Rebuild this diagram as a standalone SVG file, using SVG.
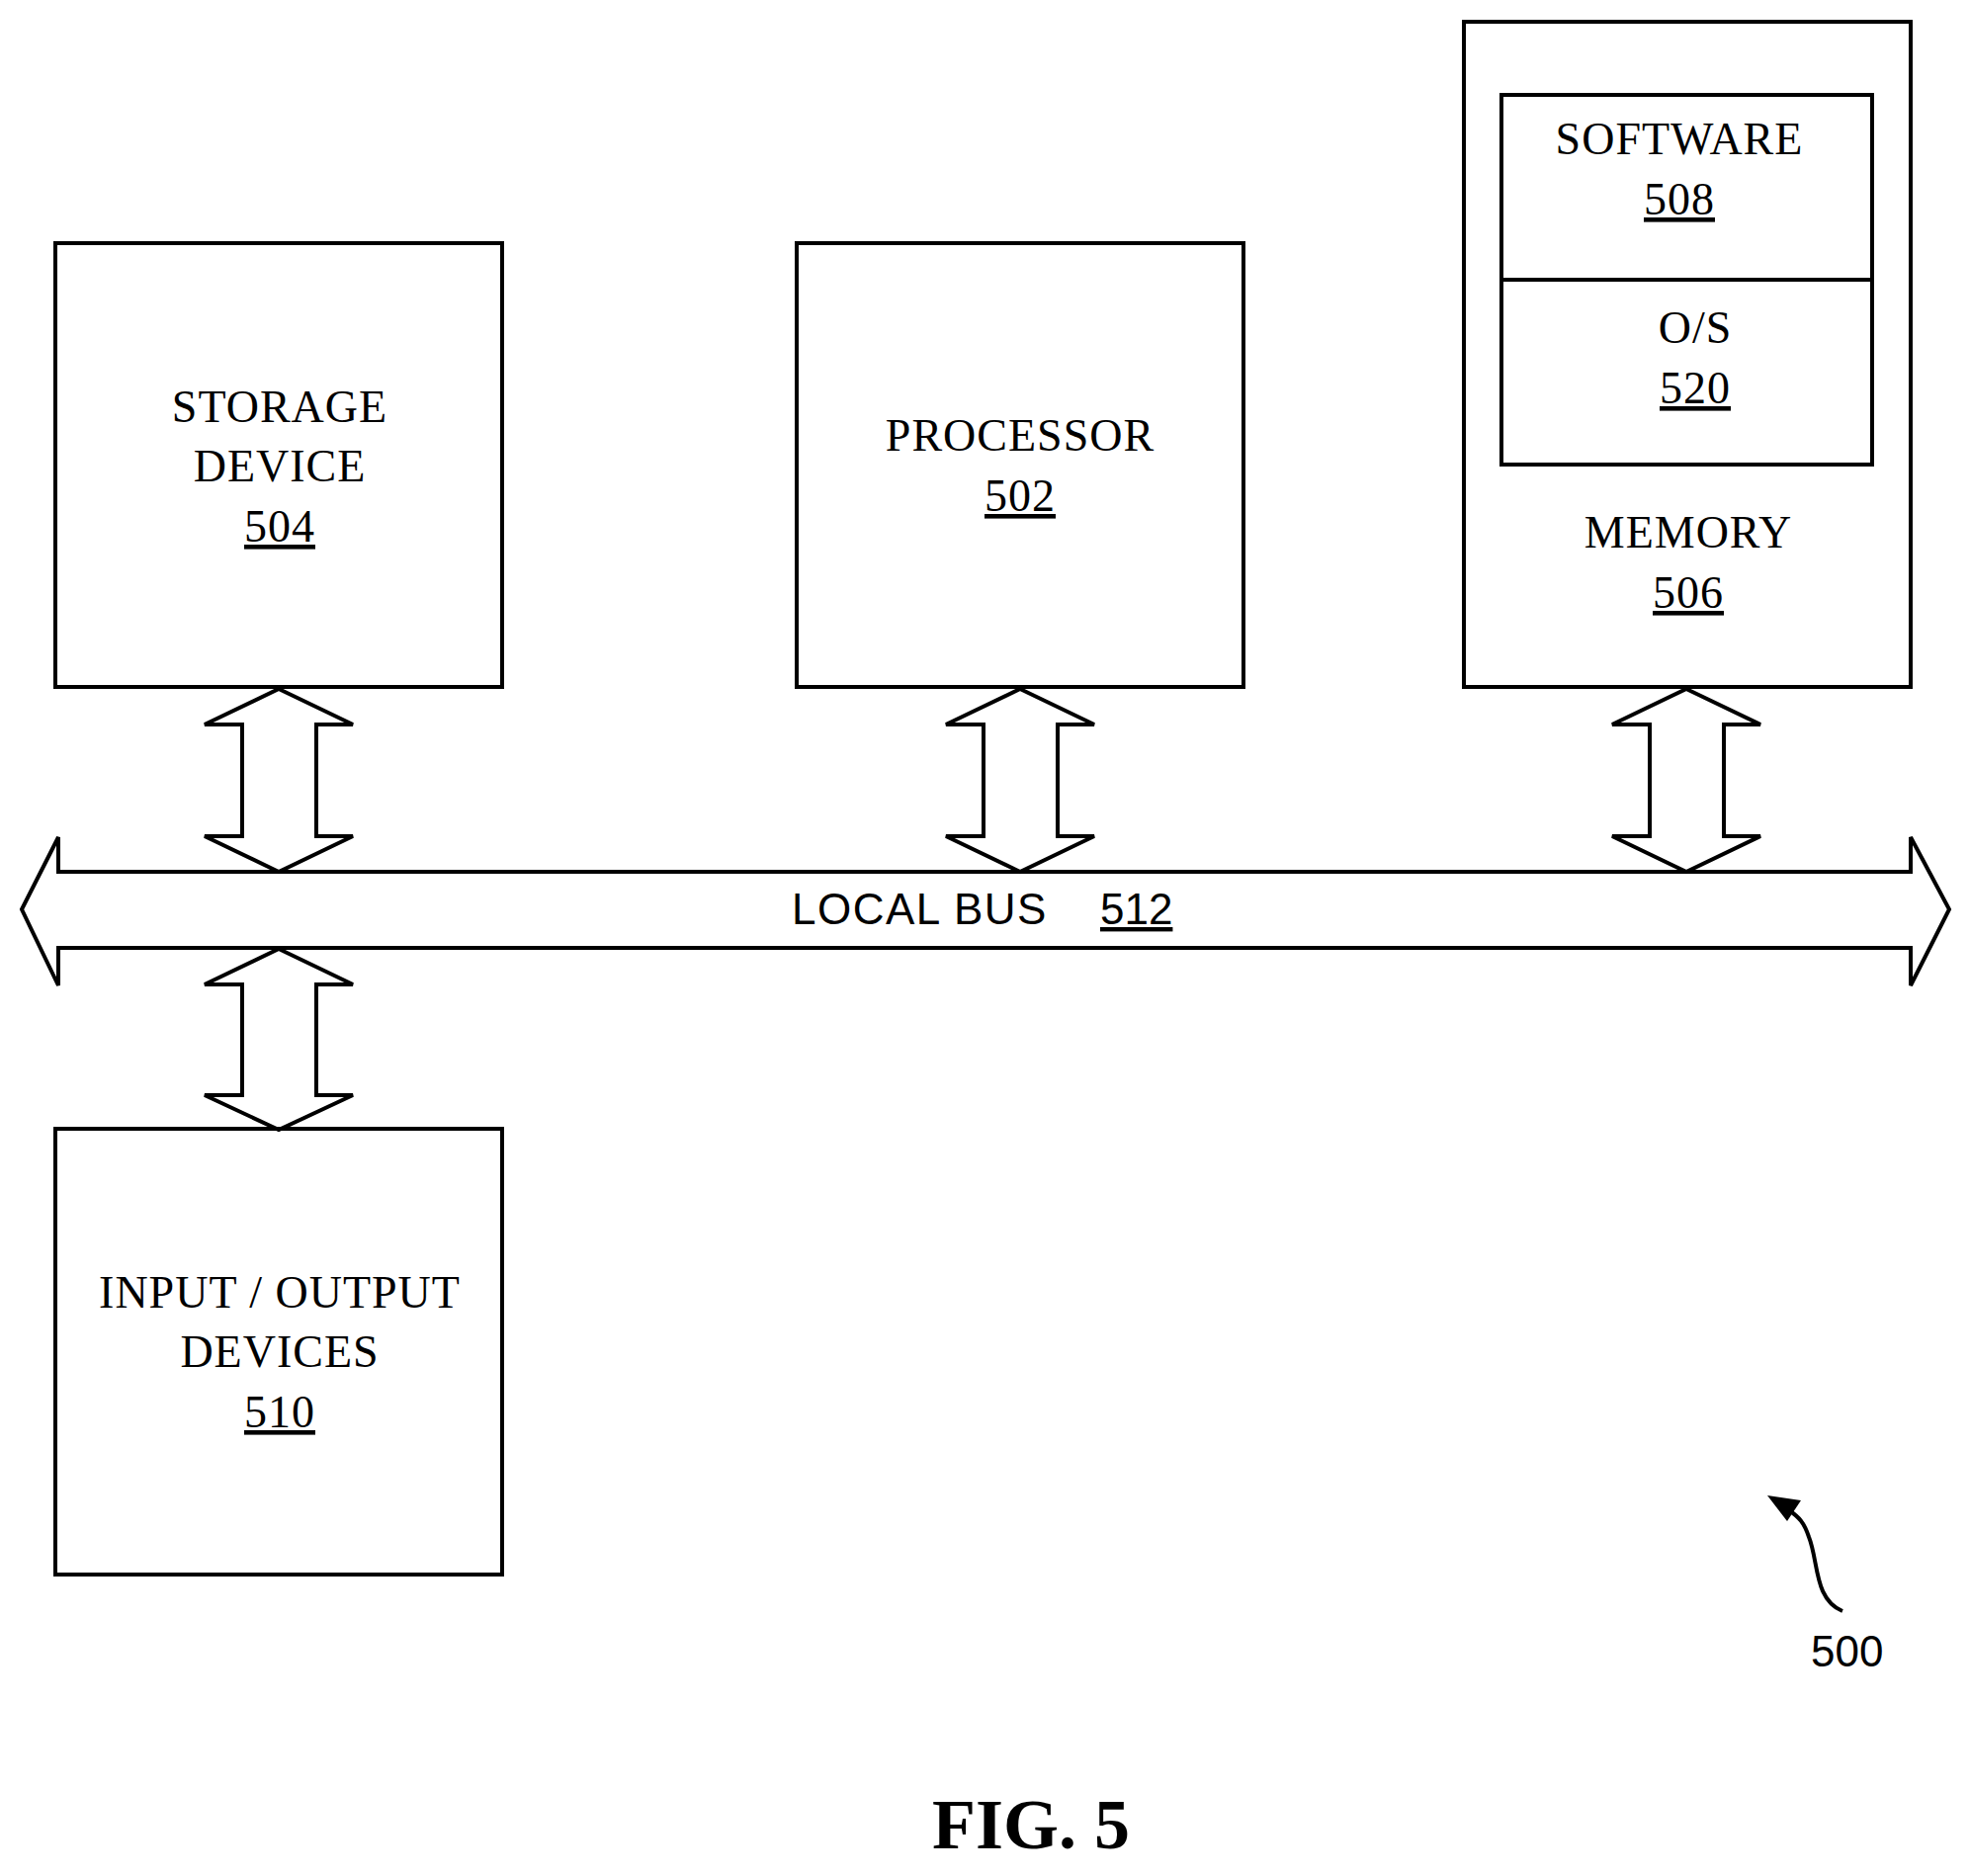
<svg xmlns="http://www.w3.org/2000/svg" width="1992" height="1898" viewBox="0 0 1992 1898">
<style>
.b{fill:none;stroke:#000;stroke-width:4}
.a{fill:#fff;stroke:#000;stroke-width:4;stroke-linejoin:miter}
.t{font-family:"Liberation Serif",serif;font-size:46px;text-anchor:middle;fill:#000;letter-spacing:1px}
.u{text-decoration:underline}
.s{font-family:"Liberation Sans",sans-serif;font-size:44px;fill:#000}
</style>
<rect width="1992" height="1898" fill="#fff"/>
<g id="connectors">
<path class="a" d="M22,920 L59,847 L59,882 L1933,882 L1933,847 L1972,920 L1933,997 L1933,959 L59,959 L59,997 Z"/>
<path class="a" d="M282,697 L357,733 L320,733 L320,846 L357,846 L282,882 L207,846 L245,846 L245,733 L207,733 Z"/>
<path class="a" d="M1032,697 L1107,733 L1070,733 L1070,846 L1107,846 L1032,882 L957,846 L995,846 L995,733 L957,733 Z"/>
<path class="a" d="M1706,697 L1781,733 L1744,733 L1744,846 L1781,846 L1706,882 L1631,846 L1669,846 L1669,733 L1631,733 Z"/>
<path class="a" d="M282,960 L357,996 L320,996 L320,1108 L357,1108 L282,1143 L207,1108 L245,1108 L245,996 L207,996 Z"/>
</g>
<g id="bus-label">
<text class="s" x="801" y="935" letter-spacing="1.5">LOCAL BUS</text>
<text class="s u" x="1113" y="935">512</text>
</g>
<g id="storage">
<rect class="b" x="56" y="246" width="452" height="449"/>
<text class="t" x="283" y="427">STORAGE</text>
<text class="t" x="283" y="487">DEVICE</text>
<text class="t u" x="283" y="548">504</text>
</g>
<g id="processor">
<rect class="b" x="806" y="246" width="452" height="449"/>
<text class="t" x="1032" y="456">PROCESSOR</text>
<text class="t u" x="1032" y="517">502</text>
</g>
<g id="memory">
<rect class="b" x="1481" y="22" width="452" height="673"/>
<rect class="b" x="1519" y="96" width="375" height="374"/>
<line class="b" x1="1519" y1="283" x2="1894" y2="283"/>
<text class="t" x="1699" y="156">SOFTWARE</text>
<text class="t u" x="1699" y="217">508</text>
<text class="t" x="1715" y="347">O/S</text>
<text class="t u" x="1715" y="408">520</text>
<text class="t" x="1708" y="554">MEMORY</text>
<text class="t u" x="1708" y="615">506</text>
</g>
<g id="io">
<rect class="b" x="56" y="1142" width="452" height="451"/>
<text class="t" x="283" y="1323">INPUT / OUTPUT</text>
<text class="t" x="283" y="1383">DEVICES</text>
<text class="t u" x="283" y="1444">510</text>
</g>
<g id="ref500">
<path d="M1864,1630 C1835,1618 1840,1580 1830,1555 C1825,1540 1820,1535 1810,1528" fill="none" stroke="#000" stroke-width="4"/>
<path d="M1788,1513 L1822,1518 L1808,1539 Z" fill="#000"/>
<text class="s" x="1832" y="1686">500</text>
</g>
<text x="1043" y="1870" font-family="Liberation Serif,serif" font-weight="bold" font-size="72" text-anchor="middle">FIG. 5</text>
</svg>
